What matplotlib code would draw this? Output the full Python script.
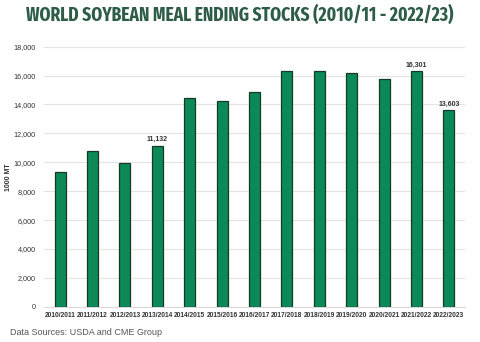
import matplotlib
matplotlib.use("Agg")
import matplotlib.pyplot as plt
from matplotlib.ticker import FuncFormatter, MultipleLocator
from matplotlib import font_manager
from matplotlib.font_manager import FontProperties

seasons = ["2010/2011", "2011/2012", "2012/2013", "2013/2014", "2014/2015",
           "2015/2016", "2016/2017", "2017/2018", "2018/2019", "2019/2020",
           "2020/2021", "2021/2022", "2022/2023"]
stocks = [9350, 10750, 9950, 11132, 14450, 14250, 14850,
          16300, 16350, 16200, 15750, 16301, 13603]
labelled = ["2013/2014", "2021/2022", "2022/2023"]

fig = plt.figure(figsize=(4.8, 3.42), dpi=100)
ax = fig.add_axes([0.0917, 0.103, 0.877, 0.7605])

x = range(len(seasons))
ax.bar(x, stocks, width=0.34, color="#0b8a58", edgecolor="#163a28",
       linewidth=0.9, zorder=3)

for i, (s, v) in enumerate(zip(seasons, stocks)):
    if s in labelled:
        ax.text(i, v + 180, f"{v:,}", ha="center", va="bottom",
                fontsize=5, fontweight="bold", color="#333333",
                family="Liberation Sans")

ax.set_xlim(-0.5, len(seasons) - 0.5)
ax.set_ylim(0, 18000)
ax.yaxis.set_major_locator(MultipleLocator(2000))
ax.yaxis.set_major_formatter(FuncFormatter(lambda v, p: f"{int(v):,}"))
ax.set_xticks(list(x))
ax.set_xticklabels(seasons)
ax.grid(axis="y", color="#e4e4e4", linewidth=0.8, zorder=0)
for side in ("top", "right", "left"):
    ax.spines[side].set_visible(False)
ax.spines["bottom"].set_color("#d9d9d9")
ax.spines["bottom"].set_linewidth(0.8)
ax.tick_params(axis="both", length=0, pad=4, labelcolor="#333333")
for lab in ax.get_yticklabels():
    lab.set_fontsize(5.2)
    lab.set_family("Liberation Sans")
for lab in ax.get_xticklabels():
    lab.set_fontsize(4.8)
    lab.set_fontweight("bold")
    lab.set_family("Liberation Sans")
ax.tick_params(axis="y", pad=6)
ax.set_ylabel("1000 MT", fontsize=5, fontweight="bold", color="#333333",
              family="Liberation Sans")
ax.yaxis.set_label_coords(-0.075, 0.5)

# pick a condensed bold face for the headline when one is installed
def condensed_bold():
    files = [f.fname for f in font_manager.fontManager.ttflist]
    for key in ("extracondensed-bold", "condensedbold", "condensed-bold",
                "semicondensed-bold"):
        for fn in sorted(files):
            low = fn.lower().replace("_", "-")
            if key in low and "italic" not in low and "oblique" not in low:
                return FontProperties(fname=fn)
    return FontProperties(family="DejaVu Sans", weight="bold")

title_font = condensed_bold()
title = fig.text(0.5, 0.958, "WORLD SOYBEAN MEAL ENDING STOCKS (2010/11 - 2022/23)",
                 ha="center", va="center", fontproperties=title_font,
                 color="#2d5c47")
title.set_fontsize(14)
renderer = fig.canvas.get_renderer()
width = title.get_window_extent(renderer).width
title.set_fontsize(min(16, 14 * 428 / width))

fig.text(0.021, 0.028, "Data Sources: USDA and CME Group", ha="left",
         va="center", fontsize=6.5, color="#555555", family="Liberation Sans")

fig.savefig("out.png", dpi=100)
